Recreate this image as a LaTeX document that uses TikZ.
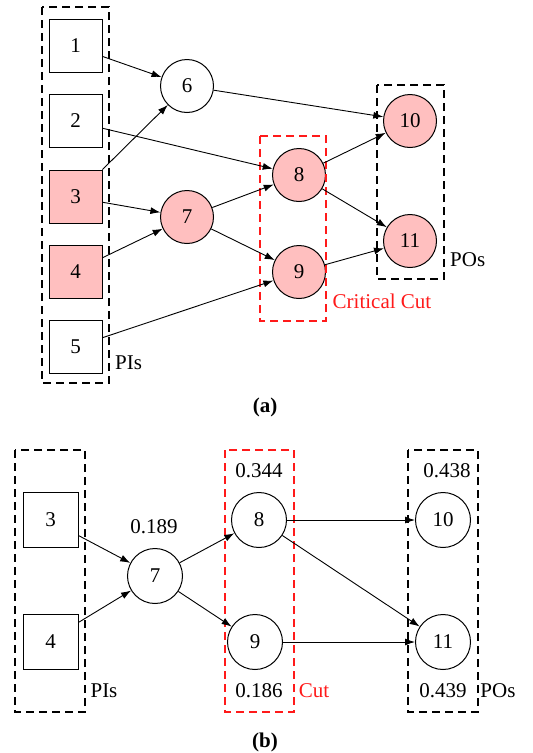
\documentclass[tikz,border=0pt]{standalone}
\usepackage{fontspec}
\setmainfont{Liberation Serif}
\usetikzlibrary{arrows.meta}
\definecolor{pinkfill}{HTML}{FFBFBF}
\definecolor{cutred}{HTML}{FF1A1A}
\begin{document}
\begin{tikzpicture}[x=1pt,y=-1pt,
 every node/.style={font=\fontsize{21}{25}\selectfont},
 sq/.style={draw, line width=1pt, minimum size=53pt, inner sep=0pt},
 cir/.style={draw, circle, line width=1pt, minimum size=53pt, inner sep=0pt},
 big/.style={minimum size=55pt},
 hl/.style={fill=pinkfill},
 grp/.style={draw, line width=2.6pt, dash pattern=on 8pt off 5pt},
 redgrp/.style={grp, draw=cutred},
 arr/.style={-{Latex[length=10pt,width=7pt]}, line width=0.9pt},
 lbl/.style={inner sep=0pt},
 redlbl/.style={lbl, text=cutred}]
\useasboundingbox (0,0) rectangle (533,753);

% ---------- (a) ----------
\node[sq] (a1) at (75.5,45.5) {1};
\node[sq] (a2) at (75.5,121) {2};
\node[sq,hl] (a3) at (75.5,196.5) {3};
\node[sq,hl] (a4) at (75.5,271.5) {4};
\node[sq] (a5) at (75.5,347) {5};
\node[cir] (a6) at (187,86) {6};
\node[cir,hl] (a7) at (187,217) {7};
\node[cir,hl] (a8) at (299,175) {8};
\node[cir,hl] (a9) at (299,272) {9};
\node[cir,hl] (a10) at (410,121) {10};
\node[cir,hl] (a11) at (410,241) {11};

\draw[grp] (42,7) rectangle (109,383);
\draw[redgrp] (260,136) rectangle (326,321);
\draw[grp] (377,85) rectangle (444,279);

\draw[arr] (a1.-22) -- (a6);
\draw[arr] (a2.-15) -- (a8);
\draw[arr] (a3.north east) -- (a6);
\draw[arr] (a3.-12) -- (a7);
\draw[arr] (a4.27) -- (a7);
\draw[arr] (a5.19) -- (a9);
\draw[arr] (a6) -- (a10);
\draw[arr] (a7) -- (a8);
\draw[arr] (a7) -- (a9);
\draw[arr] (a8) -- (a10);
\draw[arr] (a8) -- (a11);
\draw[arr] (a9) -- (a11);

\node[redlbl] (cc) at (382,301) {Critical Cut};
\node[lbl,anchor=west] (pos) at (450,260) {POs};
\node[lbl,anchor=west] (pis) at (115,363) {PIs};
\node[lbl,font=\fontsize{21}{25}\selectfont\bfseries] (capa) at (265,407) {(a)};

% ---------- (b) ----------
\node[sq,big] (b3) at (50.5,520) {3};
\node[sq,big] (b4) at (50.5,642) {4};
\node[cir,big] (b7) at (155,576) {7};
\node[cir,big] (b8) at (259,520) {8};
\node[cir,big] (b9) at (255,642) {9};
\node[cir,big] (b10) at (443,520) {10};
\node[cir,big] (b11) at (443,642) {11};

\draw[grp] (15,450) rectangle (85,712);
\draw[redgrp] (225,450) rectangle (294,712);
\draw[grp] (408,450) rectangle (478,712);

\draw[arr] (b3.-29) -- (b7);
\draw[arr] (b4.35) -- (b7);
\draw[arr] (b7) -- (b8);
\draw[arr] (b7) -- (b9);
\draw[arr] (b8) -- (b10);
\draw[arr] (b8) -- (b11);
\draw[arr] (b9) -- (b11);

\node[lbl] (v7) at (154,527) {0.189};
\node[lbl] (v8) at (259,471) {0.344};
\node[lbl] (v9) at (259,691) {0.186};
\node[redlbl] (cut) at (314,691) {Cut};
\node[lbl] (v10) at (447,471) {0.438};
\node[lbl] (v11) at (443,691) {0.439};
\node[lbl] (pisb) at (104,691) {PIs};
\node[lbl] (posb) at (498,691) {POs};
\node[lbl,font=\fontsize{21}{25}\selectfont\bfseries] (capb) at (265,742) {(b)};
\end{tikzpicture}
\end{document}
